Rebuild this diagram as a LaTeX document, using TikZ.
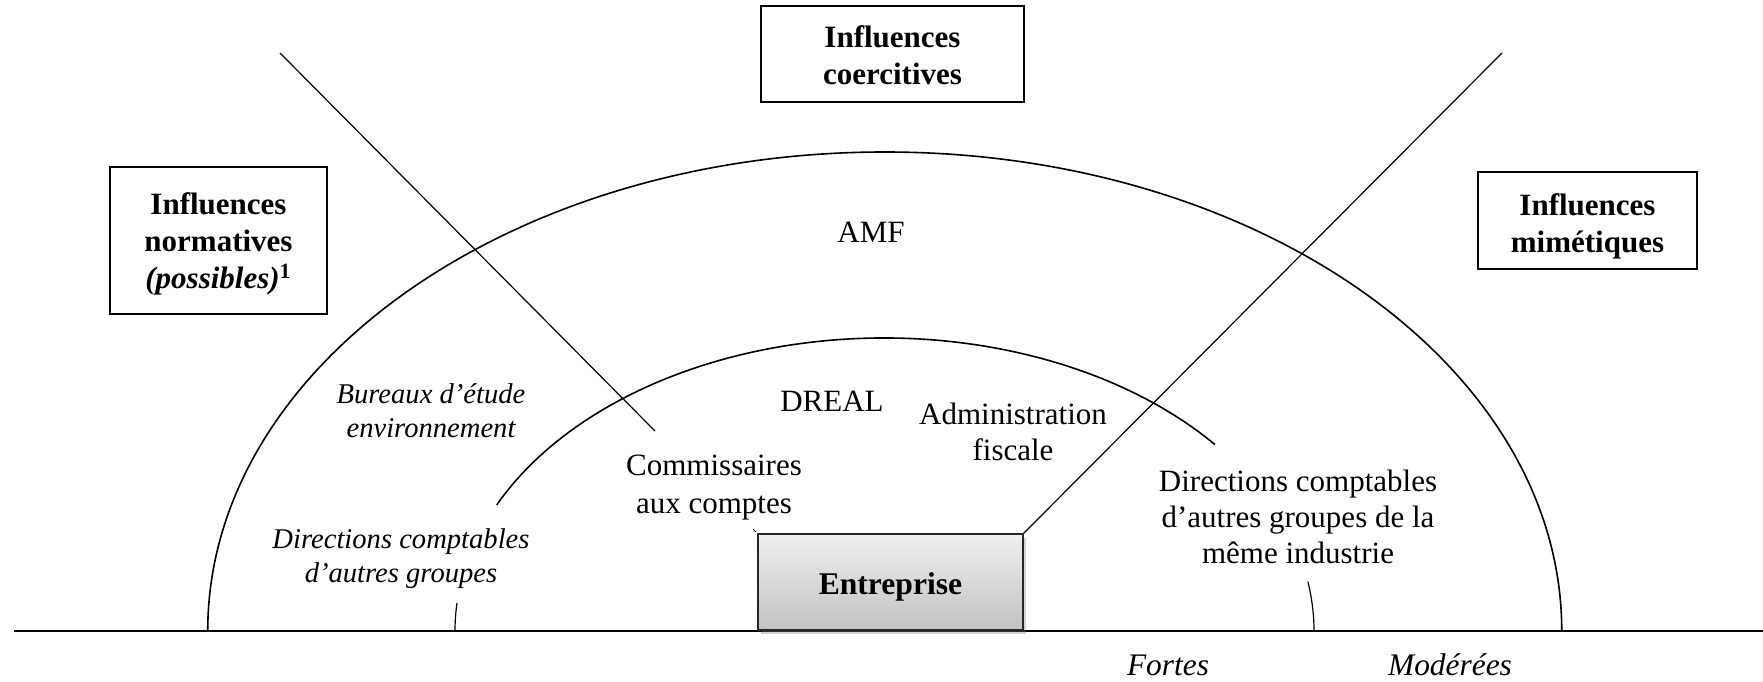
\documentclass[tikz,border=0pt]{standalone}
\usepackage{fontspec}
\setmainfont{Liberation Serif}
\usetikzlibrary{shadows}
\begin{document}
\begin{tikzpicture}[x=0.5pt,y=0.5pt,
  txt/.style={font=\fontsize{15.5}{18}\selectfont, align=center, inner sep=0pt},
  itxt/.style={font=\fontsize{14.3}{16.8}\selectfont\itshape, align=center, inner sep=0pt},
  axtxt/.style={font=\fontsize{15.7}{18}\selectfont\itshape, inner sep=0pt},
  infbox/.style={draw, line width=0.6pt, inner sep=0pt},
  boxtxt/.style={align=center, inner sep=0pt, font=\fontsize{15.5}{18.5}\selectfont\bfseries},
  entbox/.style={draw=black!85, line width=0.8pt, inner sep=0pt, top color=gray!12, bottom color=gray!48,
    drop shadow={shadow xshift=1.5pt, shadow yshift=-2pt, opacity=0.35, fill=gray}},
  arcline/.style={line width=0.8pt},
  thinline/.style={line width=0.6pt},
]
\useasboundingbox (0,0) rectangle (1763,681);

% ground line
\coordinate (gl) at (14,50);
\coordinate (gr) at (1763,50);
\draw[line width=1pt] (gl) -- (gr);

% outer arc
\coordinate (outL) at (207.75,50);
\draw[arcline] (outL) arc[start angle=180, end angle=0, x radius=338.5pt, y radius=239.5pt];

% inner arc (partial) and its feet
\coordinate (inA) at (1215,236.4);
\draw[arcline] (inA) arc[start angle=39.5, end angle=154.5, x radius=214.5pt, y radius=146.5pt];
\coordinate (inL) at (455,50);
\draw[thinline] (inL) arc[start angle=180, end angle=174.5, x radius=214.5pt, y radius=146.5pt];
\coordinate (inR) at (1314,50);
\draw[thinline] (inR) arc[start angle=0, end angle=9.7, x radius=214.5pt, y radius=146.5pt];

% boxes
\node[infbox, minimum width=131.5pt, minimum height=48pt] (coer) at (892.5,627) {};
\node[boxtxt] (coer-t) at (892.5,625.3) {Influences\\coercitives};
\node[infbox, minimum width=108.5pt, minimum height=73.5pt] (norm) at (218.5,440.5) {};
\node[boxtxt] (norm-t) at (218.5,436.7) {Influences\\normatives\\\textit{(possibles)}\textsuperscript{1}};
\node[infbox, minimum width=109.5pt, minimum height=48.5pt] (mim) at (1587.5,460.5) {};
\node[boxtxt] (mim-t) at (1587.5,454.9) {Influences\\mimétiques};
\node[entbox, minimum width=132.5pt, minimum height=48pt] (ent) at (890.5,99) {};
\node[boxtxt, font=\fontsize{15.8}{18}\selectfont\bfseries] (ent-t) at (890.5,94.5) {Entreprise};

% diagonals
\coordinate (dl1) at (280,628);
\coordinate (dl2) at (655,250);
\draw[thinline] (dl1) -- (dl2);
\coordinate (dr1) at (1502,628);
\draw[thinline] (dr1) -- (ent.north east);
\coordinate (tk1) at (753,152);
\coordinate (tk2) at (756,149);
\draw[line width=0.5pt] (tk1) -- (tk2);

% labels
\node[txt] (amf) at (871,449) {AMF};
\node[itxt] (bur) at (431,270.5) {Bureaux d’étude\\environnement};
\node[txt] (dreal) at (832,280) {DREAL};
\node[txt, font=\fontsize{15.5}{19}\selectfont] (cac) at (714,193.6) {Commissaires\\aux comptes};
\node[txt] (adm) at (1013,249) {Administration\\fiscale};
\node[txt] (dcr) at (1298,164) {Directions comptables\\d’autres groupes de la\\même industrie};
\node[itxt] (dcl) at (401,122.3) {Directions comptables\\d’autres groupes};
\node[axtxt] (fort) at (1168,16) {Fortes};
\node[axtxt] (mod) at (1450,16) {Modérées};
\end{tikzpicture}
\end{document}
